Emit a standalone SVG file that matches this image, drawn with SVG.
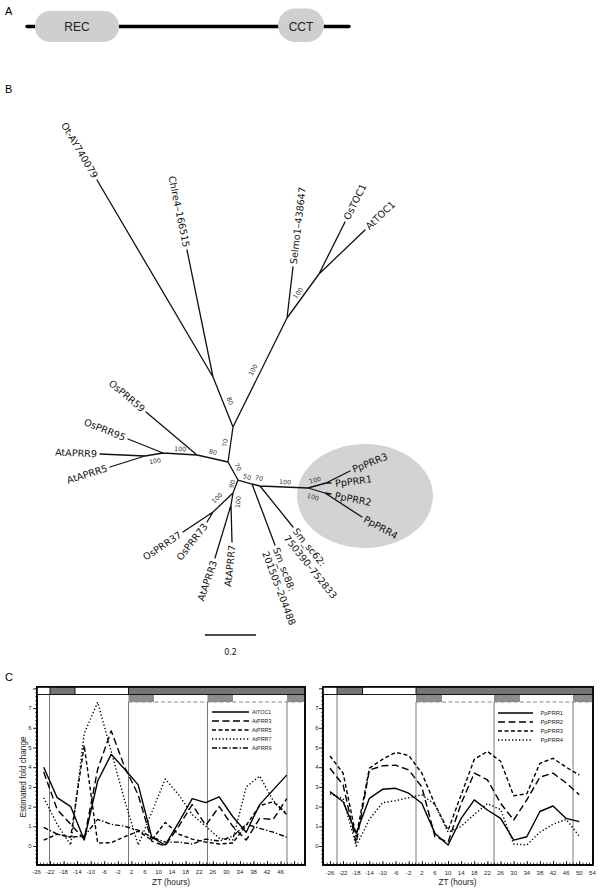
<svg xmlns="http://www.w3.org/2000/svg" width="600" height="891" viewBox="0 0 600 891">
<style>
.pl{font-family:"Liberation Sans",Arial,sans-serif;font-size:11px;fill:#000}
.dom{font-family:"Liberation Sans",Arial,sans-serif;font-size:12px;fill:#222;text-anchor:middle}
.br{stroke:#111;stroke-width:1.3;fill:none;stroke-linecap:round}
.lf{font-family:"DejaVu Sans","Noto Sans",sans-serif;font-size:9.6px;fill:#111}
.bs{font-family:"DejaVu Sans","Noto Sans",sans-serif;font-size:6.3px;fill:#333;text-anchor:middle}
.ax{font-family:"Liberation Sans",Arial,sans-serif;font-size:6px;fill:#222}
.axt{font-family:"Liberation Sans",Arial,sans-serif;font-size:8.2px;fill:#222;text-anchor:middle}
.lg{font-family:"Liberation Sans",Arial,sans-serif;font-size:5.4px;fill:#222}
.fr{fill:#fff;stroke:#000;stroke-width:1.6}
.vl{stroke:#555;stroke-width:0.8}
.dk{fill:#757575}
.dy{fill:#8c8c8c}
.dl{stroke:#888;stroke-width:1;stroke-dasharray:4 2.5}
.s{fill:none;stroke:#000;stroke-width:1.4;stroke-linejoin:round}
.d1{stroke-dasharray:7 3.5}
.d2{stroke-dasharray:4 2.5}
.d3{stroke-dasharray:1.3 2.2}
.d4{stroke-dasharray:5 2 1.3 2}
</style>
<defs>
<pattern id="xmL" x="36.5" y="0" width="3.39" height="10" patternUnits="userSpaceOnUse"><rect x="0" y="0" width="0.7" height="10" fill="#000"/></pattern>
<pattern id="xML" x="36.5" y="0" width="13.56" height="10" patternUnits="userSpaceOnUse"><rect x="0" y="0" width="0.8" height="10" fill="#000"/></pattern>
<pattern id="xmR" x="330" y="0" width="3.28" height="10" patternUnits="userSpaceOnUse"><rect x="0" y="0" width="0.7" height="10" fill="#000"/></pattern>
<pattern id="xMR" x="330" y="0" width="13.12" height="10" patternUnits="userSpaceOnUse"><rect x="0" y="0" width="0.8" height="10" fill="#000"/></pattern>
<pattern id="ym" x="0" y="846" width="10" height="3.94" patternUnits="userSpaceOnUse"><rect x="0" y="0" width="10" height="0.6" fill="#000"/></pattern>
<pattern id="yM" x="0" y="846" width="10" height="19.7" patternUnits="userSpaceOnUse"><rect x="0" y="0" width="10" height="0.8" fill="#000"/></pattern>
</defs>
<rect width="600" height="891" fill="#fff"/>

<!-- Panel A -->
<text class="pl" x="5" y="15">A</text>
<g id="panelA">
<line x1="27" y1="26.5" x2="349" y2="26.5" stroke="#000" stroke-width="3.5" stroke-linecap="round"/>
<g id="REC"><rect x="35" y="11" width="84" height="31" rx="15" fill="#cfcfcf"/><text class="dom" x="77" y="31">REC</text></g>
<g id="CCT"><rect x="278" y="8.5" width="46" height="33.5" rx="17" fill="#cfcfcf"/><text class="dom" x="301" y="30.5">CCT</text></g>
</g>

<!-- Panel B -->
<text class="pl" x="5" y="93">B</text>
<ellipse id="ppclade" cx="365" cy="496" rx="68" ry="52" fill="#d3d3d3"/>
<g id="connectors">
<path class="br" d="M97,180L213,377M187,250L213,377M213,377L233,427M233,427L287,318M287,318L293,267M287,318L319,274M319,274L345,222M319,274L365,230M233,427L228,462M228,462L197,455M197,455L146,412M197,455L163,453M163,453L128,439M163,453L145,456M145,456L100,454M145,456L110,467M228,462L238,480M238,480L252,484M252,484L275,545M252,484L260,486M260,486L293,527M260,486L308,488M308,488L326,483M326,483L350,471M326,483L331,483M308,488L325,493M325,493L362,517M325,493L331,494M238,480L233,493M233,493L213,512M213,512L183,532M213,512L207,522M233,493L231,505M231,505L215,558M231,505L232,542"/>
</g>
<g id="support">
<text class="bs" transform="translate(298,293) rotate(-55)" dy="0.35em">100</text>
<text class="bs" transform="translate(253,370) rotate(-63)" dy="0.35em">100</text>
<text class="bs" transform="translate(230,401) rotate(68)" dy="0.35em">80</text>
<text class="bs" transform="translate(225,443) rotate(-82)" dy="0.35em">70</text>
<text class="bs" transform="translate(213,452) rotate(13)" dy="0.35em">80</text>
<text class="bs" transform="translate(180,449) rotate(3)" dy="0.35em">100</text>
<text class="bs" transform="translate(155,461) rotate(-9)" dy="0.35em">100</text>
<text class="bs" transform="translate(238,467) rotate(61)" dy="0.35em">70</text>
<text class="bs" transform="translate(247,477) rotate(16)" dy="0.35em">50</text>
<text class="bs" transform="translate(259,478) rotate(14)" dy="0.35em">70</text>
<text class="bs" transform="translate(285,482) rotate(2)" dy="0.35em">100</text>
<text class="bs" transform="translate(315,480) rotate(-15)" dy="0.35em">100</text>
<text class="bs" transform="translate(313,497) rotate(16)" dy="0.35em">100</text>
<text class="bs" transform="translate(232,484) rotate(-75)" dy="0.35em">90</text>
<text class="bs" transform="translate(217,498) rotate(-45)" dy="0.35em">100</text>
<text class="bs" transform="translate(238,502) rotate(-85)" dy="0.35em">100</text>
</g>
<g id="leaf-Ot"><text class="lf" transform="translate(95.5,177.4) rotate(59.5)" dy="0.35em" text-anchor="end">Ot-AY740079</text></g>
<g id="leaf-Chlre4"><text class="lf" transform="translate(186.4,247.1) rotate(78.4)" dy="0.35em" text-anchor="end">Chlre4–166515</text></g>
<g id="leaf-Selmo1"><text class="lf" transform="translate(293.4,264) rotate(-83.3)" dy="0.35em">Selmo1–438647</text></g>
<g id="leaf-OsTOC1"><text class="lf" transform="translate(346.3,219.3) rotate(-63.4)" dy="0.35em">OsTOC1</text></g>
<g id="leaf-AtTOC1"><text class="lf" transform="translate(367.2,227.9) rotate(-43.7)" dy="0.35em">AtTOC1</text></g>
<g id="leaf-OsPRR59"><text class="lf" transform="translate(143.7,410.1) rotate(40.1)" dy="0.35em" text-anchor="end">OsPRR59</text></g>
<g id="leaf-OsPRR95"><text class="lf" transform="translate(125.2,437.9) rotate(21.8)" dy="0.35em" text-anchor="end">OsPRR95</text></g>
<g id="leaf-AtAPRR9"><text class="lf" transform="translate(97,453.9) rotate(2.5)" dy="0.35em" text-anchor="end">AtAPRR9</text></g>
<g id="leaf-AtAPRR5"><text class="lf" transform="translate(107.1,467.9) rotate(-17.4)" dy="0.35em" text-anchor="end">AtAPRR5</text></g>
<g id="leaf-OsPRR37"><text class="lf" transform="translate(180.5,533.7) rotate(-33.7)" dy="0.35em" text-anchor="end">OsPRR37</text></g>
<g id="leaf-OsPRR73"><text class="lf" transform="translate(205.5,524.5) rotate(-52)" dy="0.35em" text-anchor="end">OsPRR73</text></g>
<g id="leaf-AtAPRR3"><text class="lf" transform="translate(214.1,560.9) rotate(-71)" dy="0.35em" text-anchor="end">AtAPRR3</text></g>
<g id="leaf-AtAPRR7"><text class="lf" transform="translate(232.1,545) rotate(-84)" dy="0.35em" text-anchor="end">AtAPRR7</text></g>
<g id="leaf-Smsc88"><text class="lf" transform="translate(276,547.8) rotate(69.3)"><tspan x="0" dy="0.35em">Sm_sc88:</tspan><tspan x="0" dy="1.2em">201505–204488</tspan></text></g>
<g id="leaf-Smsc62"><text class="lf" transform="translate(294.9,529.3) rotate(51.2)"><tspan x="0" dy="0.35em">Sm_sc62:</tspan><tspan x="0" dy="1.2em">750390–752833</tspan></text></g>
<g id="leaf-PpPRR3"><text class="lf" transform="translate(352.7,469.7) rotate(-22)" dy="0.35em">PpPRR3</text></g>
<g id="leaf-PpPRR1"><text class="lf" transform="translate(335,483.5) rotate(-7)" dy="0.35em">PpPRR1</text></g>
<g id="leaf-PpPRR2"><text class="lf" transform="translate(335,495.5) rotate(11)" dy="0.35em">PpPRR2</text></g>
<g id="leaf-PpPRR4"><text class="lf" transform="translate(364.5,518.6) rotate(29)" dy="0.35em">PpPRR4</text></g>
<g id="scalebar">
<line x1="205" y1="635" x2="256" y2="635" stroke="#111" stroke-width="1.3"/>
<text class="lf" x="230.5" y="655" text-anchor="middle" style="font-size:8px">0.2</text>
</g>

<!-- Panel C -->
<text class="pl" x="5" y="681">C</text>
<g id="chartLeft">
<rect class="fr" x="37" y="687" width="268" height="178"/>
<rect x="37" y="687" width="13" height="7.5" fill="#fff"/>
<rect class="dk" x="50" y="687" width="25" height="7.5"/>
<rect x="75" y="687" width="53.5" height="7.5" fill="#fff"/>
<rect class="dk" x="128.5" y="687" width="176.5" height="7.5"/>
<line class="dl" x1="128.5" y1="702" x2="305" y2="702"/>
<rect class="dy" x="128.5" y="694.5" width="25.5" height="7.5"/>
<rect class="dy" x="207.5" y="694.5" width="25.5" height="7.5"/>
<rect class="dy" x="287" y="694.5" width="18" height="7.5"/>
<path d="M37,694.5H305M50,687V694.5M75,687V694.5M128.5,687V694.5" stroke="#000" stroke-width="0.9"/>
<path class="vl" d="M49.5,694.5V865M128.5,702V865M207.5,702V865M287,702V865"/>
<rect x="37" y="862.5" width="268" height="2.5" fill="url(#xmL)"/>
<rect x="37" y="861" width="268" height="4" fill="url(#xML)"/>
<rect x="35" y="687" width="2" height="178" fill="url(#ym)"/>
<rect x="33" y="687" width="4" height="178" fill="url(#yM)"/>
<rect x="37" y="687" width="268" height="178" fill="none" stroke="#000" stroke-width="1.6"/>
<g class="ax" text-anchor="end">
<text x="31.5" y="848.1">0</text><text x="31.5" y="828.4">1</text><text x="31.5" y="808.7">2</text><text x="31.5" y="789">3</text><text x="31.5" y="769.3">4</text><text x="31.5" y="749.6">5</text><text x="31.5" y="729.9">6</text><text x="31.5" y="710.2">7</text>
</g>
<g class="ax" text-anchor="middle">
<text x="36.5" y="874">-26</text><text x="50.1" y="874">-22</text><text x="63.6" y="874">-18</text><text x="77.2" y="874">-14</text><text x="90.7" y="874">-10</text><text x="104.3" y="874">-6</text><text x="117.9" y="874">-2</text><text x="131.4" y="874">2</text><text x="145" y="874">6</text><text x="158.5" y="874">10</text><text x="172.1" y="874">14</text><text x="185.7" y="874">18</text><text x="199.2" y="874">22</text><text x="212.8" y="874">26</text><text x="226.3" y="874">30</text><text x="239.9" y="874">34</text><text x="253.5" y="874">38</text><text x="267" y="874">42</text><text x="280.6" y="874">46</text>
</g>
<text class="axt" x="171" y="884.5">ZT (hours)</text>
<text class="axt" transform="translate(26,777) rotate(-90)">Estimated fold change</text>
<polyline class="s" points="43.7,767.2 57.2,797.7 70.7,806.6 84.2,840.1 97.7,781 111.2,754.4 124.7,769.2 138.2,784.9 151.7,837.1 165.2,845 178.7,822.4 192.2,798.7 205.7,802.7 219.2,796.8 232.7,816.5 246.2,832.2 259.7,804.6 273.2,789.9 286.7,775.1"/>
<polyline class="s d1" points="43.7,772.1 57.2,809.6 70.7,824.3 84.2,839.1 97.7,769.2 111.2,730.8 124.7,767.2 138.2,794.8 151.7,841.1 165.2,846 178.7,826.3 192.2,804.6 205.7,825.3 219.2,806.6 232.7,826.3 246.2,840.1 259.7,818.4 273.2,819.4 286.7,798.7"/>
<polyline class="s d2" points="43.7,840.1 57.2,834.2 70.7,837.1 84.2,745.5 97.7,843 111.2,842.7 124.7,836.7 138.2,831.2 151.7,840.1 165.2,822.4 178.7,834.2 192.2,839.1 205.7,842.1 219.2,844 232.7,843 246.2,825.3 259.7,805.6 273.2,801.7 286.7,814.5"/>
<polyline class="s d3" points="43.7,797.7 57.2,824.3 70.7,845 84.2,733.7 97.7,702.2 111.2,751.4 124.7,800.7 138.2,845 151.7,812.5 165.2,779 178.7,794.8 192.2,814.5 205.7,826.3 219.2,838.1 232.7,840.1 246.2,786.9 259.7,776.1 273.2,800.7 286.7,813.5"/>
<polyline class="s d4" points="43.7,827.3 57.2,834.2 70.7,837.1 84.2,836.2 97.7,819.4 111.2,824.3 124.7,826.3 138.2,830.2 151.7,837.1 165.2,842.1 178.7,842.1 192.2,844 205.7,839.1 219.2,841.1 232.7,836.2 246.2,824.3 259.7,828.3 273.2,832.2 286.7,837.1"/>
<g id="legendLeft">
<line class="s" x1="212" y1="712" x2="249" y2="712"/><text class="lg" x="252" y="714">AtTOC1</text>
<line class="s d1" x1="212" y1="721" x2="249" y2="721"/><text class="lg" x="252" y="723">AtPRR3</text>
<line class="s d2" x1="212" y1="730" x2="249" y2="730"/><text class="lg" x="252" y="732">AtPRR5</text>
<line class="s d3" x1="212" y1="739" x2="249" y2="739"/><text class="lg" x="252" y="741">AtPRR7</text>
<line class="s d4" x1="212" y1="748" x2="249" y2="748"/><text class="lg" x="252" y="750">AtPRR9</text>
</g>
</g>

<g id="chartRight">
<rect class="fr" x="323" y="687" width="270" height="178"/>
<rect x="323" y="687" width="14" height="7.5" fill="#fff"/>
<rect class="dk" x="337" y="687" width="25.5" height="7.5"/>
<rect x="362.5" y="687" width="53.5" height="7.5" fill="#fff"/>
<rect class="dk" x="416" y="687" width="177" height="7.5"/>
<line class="dl" x1="416" y1="702" x2="593" y2="702"/>
<rect class="dy" x="416" y="694.5" width="26" height="7.5"/>
<rect class="dy" x="494" y="694.5" width="26" height="7.5"/>
<rect class="dy" x="573" y="694.5" width="20" height="7.5"/>
<path d="M323,694.5H593M337,687V694.5M362.5,687V694.5M416,687V694.5" stroke="#000" stroke-width="0.9"/>
<path class="vl" d="M337,694.5V865M416,702V865M494,702V865M573,702V865"/>
<rect x="323" y="862.5" width="270" height="2.5" fill="url(#xmR)"/>
<rect x="323" y="861" width="270" height="4" fill="url(#xMR)"/>
<rect x="321" y="687" width="2" height="178" fill="url(#ym)"/>
<rect x="319" y="687" width="4" height="178" fill="url(#yM)"/>
<rect x="323" y="687" width="270" height="178" fill="none" stroke="#000" stroke-width="1.6"/>
<g class="ax" text-anchor="end">
<text x="318.5" y="848.1">0</text><text x="318.5" y="828.4">1</text><text x="318.5" y="808.7">2</text><text x="318.5" y="789">3</text><text x="318.5" y="769.3">4</text><text x="318.5" y="749.6">5</text><text x="318.5" y="729.9">6</text><text x="318.5" y="710.2">7</text>
</g>
<g class="ax" text-anchor="middle">
<text x="330" y="874.5">-26</text><text x="343.1" y="874.5">-22</text><text x="356.2" y="874.5">-18</text><text x="369.4" y="874.5">-14</text><text x="382.5" y="874.5">-10</text><text x="395.6" y="874.5">-6</text><text x="408.7" y="874.5">-2</text><text x="421.8" y="874.5">2</text><text x="435" y="874.5">6</text><text x="448.1" y="874.5">10</text><text x="461.2" y="874.5">14</text><text x="474.3" y="874.5">18</text><text x="487.4" y="874.5">22</text><text x="500.6" y="874.5">26</text><text x="513.7" y="874.5">30</text><text x="526.8" y="874.5">34</text><text x="539.9" y="874.5">38</text><text x="553" y="874.5">42</text><text x="566.2" y="874.5">46</text><text x="579.3" y="874.5">50</text><text x="592.4" y="874.5">54</text>
</g>
<text class="axt" x="457.5" y="884.5">ZT (hours)</text>
<polyline class="s" points="330,791.6 343.1,801.7 356.2,833.2 369.4,798.3 382.5,789.3 395.6,788.3 408.7,793.2 421.8,803.3 435,833.4 448.1,845 461.2,818.4 474.3,799.9 487.4,810 500.6,818.4 513.7,840.1 526.8,836.7 539.9,811.5 553,806 566.2,818.4 579.3,821.6"/>
<polyline class="s d1" points="330,768.2 343.1,784.9 356.2,843.2 369.4,770 382.5,765.8 395.6,765.2 408.7,770 421.8,786.9 435,836.7 448.1,842.1 461.2,803.3 474.3,773.1 487.4,779.8 500.6,803.3 513.7,820 526.8,799.9 539.9,777.1 553,773.1 566.2,783 579.3,794.8"/>
<polyline class="s d2" points="330,756 343.1,773.1 356.2,836.7 369.4,768.2 382.5,759.3 395.6,752.4 408.7,755.4 421.8,773.1 435,804.6 448.1,830.2 461.2,794.8 474.3,759.3 487.4,751.4 500.6,761.3 513.7,795.8 526.8,793.8 539.9,763.3 553,758.3 566.2,767.2 579.3,775.1"/>
<polyline class="s d3" points="330,793.8 343.1,798.7 356.2,846 369.4,819.4 382.5,802.7 395.6,800.7 408.7,797.7 421.8,794.8 435,804.6 448.1,832.2 461.2,826.3 474.3,814.5 487.4,803.6 500.6,809.6 513.7,844 526.8,845 539.9,832.2 553,824.3 566.2,819.4 579.3,836.2"/>
<g id="legendRight">
<line class="s" x1="498" y1="713" x2="533" y2="713"/><text class="lg" x="540.5" y="715" style="font-size:5.8px">PpPRR1</text>
<line class="s d1" x1="498" y1="722" x2="533" y2="722"/><text class="lg" x="540.5" y="724" style="font-size:5.8px">PpPRR2</text>
<line class="s d2" x1="498" y1="731" x2="533" y2="731"/><text class="lg" x="540.5" y="733" style="font-size:5.8px">PpPRR3</text>
<line class="s d3" x1="498" y1="740" x2="533" y2="740"/><text class="lg" x="540.5" y="742" style="font-size:5.8px">PpPRR4</text>
</g>
</g>
</svg>
